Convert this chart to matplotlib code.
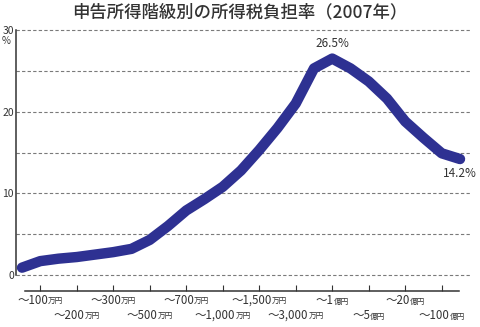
import matplotlib
matplotlib.use("Agg")
import matplotlib.pyplot as plt
from matplotlib.offsetbox import TextArea, HPacker, AnnotationBbox

plt.rcParams['font.family'] = ['Noto Sans CJK JP', 'DejaVu Sans']

# 所得階級（25区分）と所得税負担率（%）
classes = ["～70万", "～100万", "～150万", "～200万", "～250万", "～300万", "～400万",
           "～500万", "～600万", "～700万", "～800万", "～1,000万", "～1,200万",
           "～1,500万", "～2,000万", "～3,000万", "～5,000万", "～1億", "～2億",
           "～5億", "～10億", "～20億", "～50億", "～100億", "100億超"]
rates = [0.9, 1.7, 2.0, 2.2, 2.5, 2.8, 3.2, 4.3, 6.0, 7.9, 9.3, 10.8, 12.8,
         15.3, 18.0, 21.0, 25.3, 26.5, 25.3, 23.7, 21.6, 18.8, 16.8, 14.9, 14.2]

# 目盛りに表示する階級
label_idx = [1, 3, 5, 7, 9, 11, 13, 15, 17, 19, 21, 23]
label_num = ["〜100", "〜200", "〜300", "〜500", "〜700", "〜1,000",
             "〜1,500", "〜3,000", "〜1", "〜5", "〜20", "〜100"]
label_unit = ["万円", "万円", "万円", "万円", "万円", "万円",
              "万円", "万円", "億円", "億円", "億円", "億円"]

W, H = 480, 327
fig = plt.figure(figsize=(W / 100, H / 100), dpi=100)

ax = fig.add_axes([16 / W, (H - 275) / H, (470 - 16) / W, (275 - 30) / H])
x = list(range(len(rates)))
ax.set_xlim(-6 / 18.25, 24 + 10 / 18.25)
ax.set_ylim(0, 30)

for v in range(0, 31, 5):
    ax.axhline(v, color="#7a7a7a", lw=0.8, ls=(0, (3, 2)), zorder=1, clip_on=False)

ax.plot(x, rates, color="#2e3192", lw=7.5, solid_capstyle="round",
        solid_joinstyle="round", zorder=3)

for s in ["top", "right", "bottom"]:
    ax.spines[s].set_visible(False)
ax.spines["left"].set_color("#333333")
ax.spines["left"].set_linewidth(1.1)
ax.set_xticks([])
ax.set_yticks([0, 10, 20, 30])
ax.set_yticklabels(["0", "10", "20", "30"], fontsize=7.5, color="#333333")
ax.tick_params(axis="y", length=0, pad=1.5)
ax.text(-0.012, 0.955, "%", transform=ax.transAxes, ha="right", va="center",
        fontsize=7, color="#333333")

# 値ラベル
ax.text(17, 26.5 + 1.0, "26.5%", ha="center", va="bottom", fontsize=8.5, color="#333333")
ax.text(24, 14.2 - 1.0, "14.2%", ha="center", va="top", fontsize=8.5, color="#333333")

fig.text(0.5, 1 - 12 / H, "申告所得階級別の所得税負担率（2007年）", ha="center",
         va="center", fontsize=12.5, fontweight="medium", color="#333333")

# 独立した横軸
ax2 = fig.add_axes([16 / W, (H - 291) / H, (470 - 16) / W, 0.001])
ax2.set_xlim(ax.get_xlim())
ax2.set_ylim(0, 1)
for s in ["top", "right", "left"]:
    ax2.spines[s].set_visible(False)
ax2.spines["bottom"].set_bounds(3 / 18.25, 437 / 18.25)
ax2.spines["bottom"].set_color("#333333")
ax2.spines["bottom"].set_linewidth(1.1)
ax2.set_yticks([])
ax2.set_xticks(label_idx)
ax2.set_xticklabels([])
ax2.tick_params(axis="x", direction="in", length=4, width=0.8, color="#333333")
ax2.patch.set_visible(False)

for k, (i, num, unit) in enumerate(zip(label_idx, label_num, label_unit)):
    row_y = 1 - (300 if k % 2 == 0 else 315.5) / H
    box = HPacker(children=[TextArea(num, textprops=dict(fontsize=8.3, color="#333333")),
                            TextArea(unit, textprops=dict(fontsize=5.5, color="#333333"))],
                  align="baseline", pad=0, sep=0)
    ab = AnnotationBbox(box, (i, row_y), xycoords=("data", "figure fraction"),
                        box_alignment=(0.5, 0.5), frameon=False, pad=0,
                        annotation_clip=False)
    ax2.add_artist(ab)

fig.savefig("out.png", dpi=100)
